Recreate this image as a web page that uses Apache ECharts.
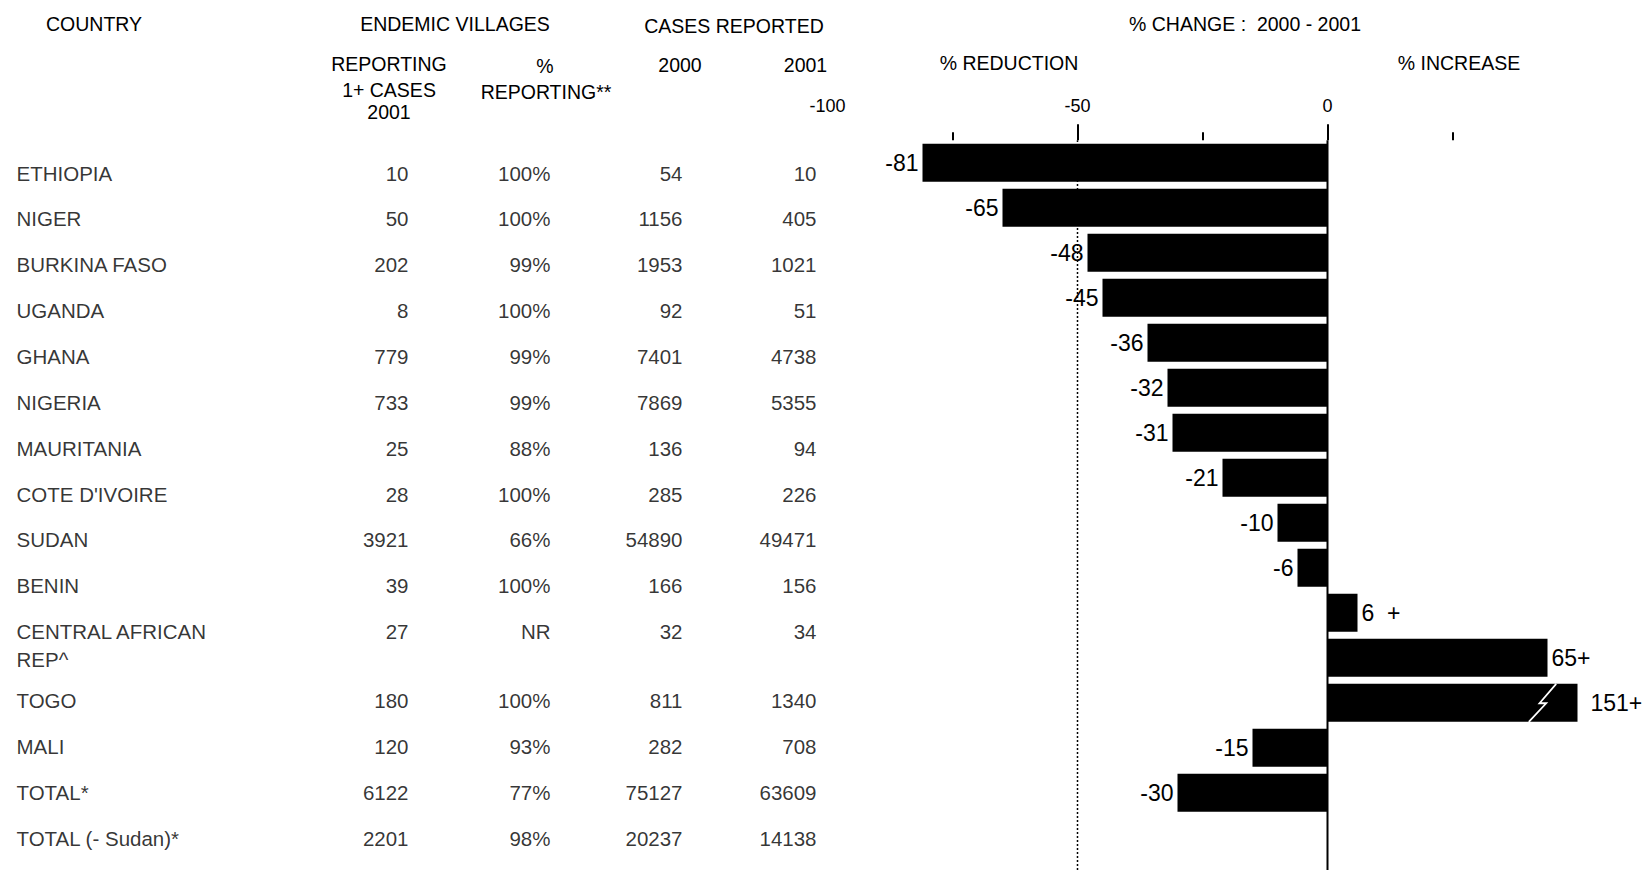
<!DOCTYPE html>
<html><head><meta charset="utf-8">
<script src="https://cdn.jsdelivr.net/npm/echarts@6/dist/echarts.min.js"></script>
<style>html,body{margin:0;padding:0;background:#fff}#c{width:1651px;height:870px}</style>
</head><body><div id="c"></div>
<script>
// ---- data ----
const countries = ['ETHIOPIA','NIGER','BURKINA FASO','UGANDA','GHANA','NIGERIA','MAURITANIA',"COTE D'IVOIRE",'SUDAN','BENIN','CENTRAL AFRICAN\nREP^','TOGO','MALI','TOTAL*','TOTAL (- Sudan)*'];
const villagesReporting = [10,50,202,8,779,733,25,28,3921,39,27,180,120,6122,2201];
const pctReporting = [100,100,99,100,99,99,88,100,66,100,null,100,93,77,98]; // null = NR
const cases2000 = [54,1156,1953,92,7401,7869,136,285,54890,166,32,811,282,75127,20237];
const cases2001 = [10,405,1021,51,4738,5355,94,226,49471,156,34,1340,708,63609,14138];
const pctChange = [-81,-65,-48,-45,-36,-32,-31,-21,-10,-6,6,65,151,-15,-30];
const barLength = [-81,-65,-48,-45,-36,-32,-31,-21,-10,-6,6,44,50,-15,-30]; // length as drawn (axis is truncated)
const changeLabels = ['-81','-65','-48','-45','-36','-32','-31','-21','-10','-6','6  +','65+','151+','-15','-30'];
const axisLabelValues = [-100,-50,0];
const majorTicks = [-50,0];
const minorTicks = [-75,-25,25];
const breakMarks = [[43,12]];

const FONT = "'Liberation Sans', Arial, Helvetica, sans-serif";
const chart = echarts.init(document.getElementById('c'), null, {renderer:'svg'});

// table row positions (a wrapped row pushes the following rows down half a row)
let extra = 0;
const rowPos = countries.map((c, i) => { const p = extra + i; extra += (c.split('\n').length - 1) * 0.5; return p; });

const tableCols = [
  {texts: countries, x: 16, align: 'left'},
  {texts: villagesReporting.map(String), x: 409, align: 'right'},
  {texts: pctReporting.map(v => v == null ? 'NR' : v + '%'), x: 551, align: 'right'},
  {texts: cases2000.map(String), x: 683, align: 'right'},
  {texts: cases2001.map(String), x: 817, align: 'right'}
];
const LH = 28;
const tableSeries = tableCols.map(col => ({
  type: 'scatter', xAxisIndex: 3, yAxisIndex: 2, silent: true,
  symbol: 'circle', symbolSize: 1, itemStyle: {color: 'rgba(0,0,0,0)'},
  data: col.texts.map((t, i) => ({
    value: [col.x, rowPos[i]],
    label: {formatter: t, offset: [0, (t.split('\n').length - 1) * LH / 2]}
  })),
  label: {show: true, position: col.align === 'left' ? 'right' : 'left', distance: 0,
    color: '#000', fontFamily: FONT, fontSize: 20.5, lineHeight: LH},
  emphasis: {disabled: true}
}));

function hdr(text, x, y) {
  return {type: 'text', x: x, y: y, silent: true,
    style: {text: text, fill: '#000', font: '19.5px ' + FONT, textAlign: 'center', textVerticalAlign: 'middle'}};
}

const brokenRows = breakMarks.map(b => b[1]);

const option = {
  animation: false,
  backgroundColor: '#fff',
  grid: [
    {left: 827.5, right: 73.5, top: 140.35, bottom: 54.65},
    {left: 827.5, right: 73.5, top: 140.35, bottom: 0},
    {left: 0, right: 0, top: 173, bottom: 32}
  ],
  xAxis: [
    {type: 'value', gridIndex: 0, min: -100, max: 50, position: 'top',
      axisLine: {show: false}, splitLine: {show: false},
      axisTick: {show: true, customValues: majorTicks, length: 16, lineStyle: {color: '#000', width: 2}},
      axisLabel: {show: true, customValues: axisLabelValues, margin: 25, color: '#000', fontFamily: FONT, fontSize: 18}},
    {type: 'value', gridIndex: 0, min: -100, max: 50, position: 'top',
      axisLine: {show: false}, splitLine: {show: false}, axisLabel: {show: false},
      axisTick: {show: true, customValues: minorTicks, length: 8, lineStyle: {color: '#000', width: 2}}},
    {type: 'value', gridIndex: 1, min: -100, max: 50, show: false},
    {type: 'value', gridIndex: 2, min: 0, max: 1651, show: false}
  ],
  yAxis: [
    {type: 'category', gridIndex: 0, data: countries, inverse: true, show: false},
    {type: 'value', gridIndex: 1, min: 0, max: 1, show: false},
    {type: 'value', gridIndex: 2, min: 0, max: rowPos[rowPos.length - 1], inverse: true, show: false}
  ],
  graphic: [
    hdr('COUNTRY', 94, 23.5),
    hdr('ENDEMIC VILLAGES', 455, 23.5),
    hdr('CASES REPORTED', 734, 25.5),
    hdr('% CHANGE :  2000 - 2001', 1245, 23.5),
    hdr('REPORTING', 389, 63.5),
    hdr('1+ CASES', 389, 90),
    hdr('2001', 389, 111.5),
    hdr('%', 545, 66),
    hdr('REPORTING**', 546, 91.5),
    hdr('2000', 680, 65),
    hdr('2001', 805.5, 65),
    hdr('% REDUCTION', 1009, 63),
    hdr('% INCREASE', 1459, 63)
  ],
  series: [
    {type: 'line', xAxisIndex: 2, yAxisIndex: 1, silent: true, symbol: 'none',
      data: [[-50, 0], [-50, 1]], lineStyle: {color: '#000', width: 1.5, type: [2, 2]}},
    {type: 'line', xAxisIndex: 2, yAxisIndex: 1, silent: true, symbol: 'none',
      data: [[0, 0], [0, 1]], lineStyle: {color: '#000', width: 2}},
    {type: 'bar', xAxisIndex: 0, yAxisIndex: 0, silent: true, barWidth: 38,
      itemStyle: {color: '#000'},
      data: barLength.map((v, i) => ({value: v, label: {
        position: v < 0 ? 'left' : 'right',
        distance: brokenRows.indexOf(i) >= 0 ? 13 : 4,
        formatter: changeLabels[i]}})),
      label: {show: true, color: '#000', fontFamily: FONT, fontSize: 23},
      emphasis: {disabled: true}},
    {type: 'custom', xAxisIndex: 0, yAxisIndex: 0, silent: true, z: 5,
      data: breakMarks,
      renderItem: function (params, api) {
        const p = api.coord([api.value(0), api.value(1)]);
        return {type: 'polyline',
          shape: {points: [[p[0] + 13.7, p[1] - 19], [p[0] - 3, p[1] + 0.4], [p[0] + 3.7, p[1] + 0.4], [p[0] - 13.7, p[1] + 19]]},
          style: {stroke: '#fff', lineWidth: 1.8, fill: null}};
      }},
    ...tableSeries
  ]
};
chart.setOption(option);
</script></body></html>
